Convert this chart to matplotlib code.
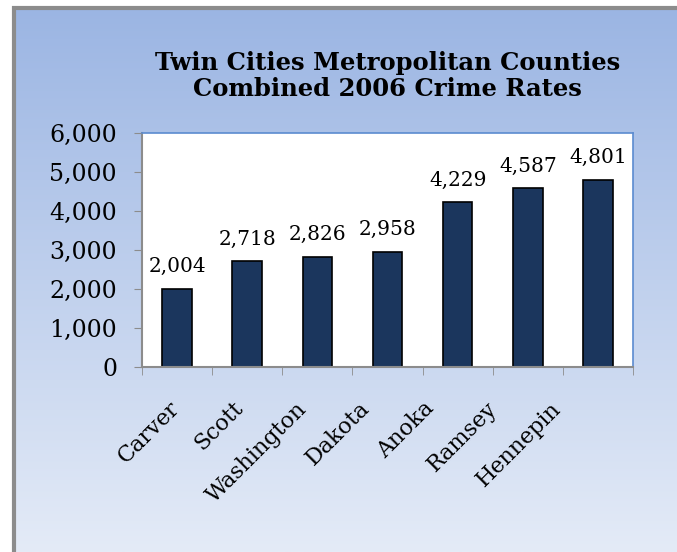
import numpy as np
import matplotlib.pyplot as plt
import matplotlib.transforms as mtransforms
from matplotlib.patches import Rectangle
from matplotlib.ticker import FuncFormatter

counties = ["Carver", "Scott", "Washington", "Dakota", "Anoka", "Ramsey", "Hennepin"]
crime_rates = [2004, 2718, 2826, 2958, 4229, 4587, 4801]
y_ticks = [0, 1000, 2000, 3000, 4000, 5000, 6000]

plt.rcParams['font.family'] = ['DejaVu Serif']

fig = plt.figure(figsize=(6.77, 5.52), dpi=100)

# gradient backdrop for the chart frame
bg = fig.add_axes([14 / 677, 0, 1 - 14 / 677, 1 - 8 / 552])
grad = np.linspace(0, 1, 256).reshape(-1, 1)
top = np.array([155, 181, 227]) / 255
bottom = np.array([228, 235, 247]) / 255
img = top + (bottom - top) * grad[:, :, None]
bg.imshow(img, aspect='auto', extent=[0, 1, 0, 1], origin='upper')
bg.set_axis_off()
bg.add_patch(Rectangle((0, -0.2), 1.2, 1.2, transform=bg.transAxes, fill=False,
                       edgecolor='#8c8c8c', linewidth=3, clip_on=False))

ax = fig.add_axes([142 / 677, 1 - 367 / 552, (633 - 142) / 677, (367 - 133) / 552])
x = np.arange(len(counties))
ax.bar(x, crime_rates, width=0.42, color='#1b365d', edgecolor='black', linewidth=1.2)

for xi, v in zip(x, crime_rates):
    ax.text(xi, v + 320, f"{v:,}", ha='center', va='bottom', fontsize=14.5)

ax.set_xlim(-0.5, len(counties) - 0.5)
ax.set_ylim(0, 6000)
ax.set_yticks(y_ticks)
ax.yaxis.set_major_formatter(FuncFormatter(lambda v, p: f"{int(v):,}"))
ax.tick_params(axis='y', direction='out', length=6, color='#8c8c8c', labelsize=17, pad=12)

ax.set_xticks(x)
ax.set_xticklabels(counties, rotation=45, ha='right', rotation_mode='anchor', fontsize=16)
ax.tick_params(axis='x', length=0, pad=22)
# category labels drift slightly left across the axis
for i, lbl in enumerate(ax.get_xticklabels()):
    shift = mtransforms.ScaledTranslation(-(9 + 6.5 * i) / 100, 0, fig.dpi_scale_trans)
    lbl.set_transform(lbl.get_transform() + shift)
ax.set_xticks(np.arange(-0.5, len(counties)), minor=True)
ax.tick_params(axis='x', which='minor', direction='out', length=6, color='#8c8c8c')

for side in ['left', 'bottom']:
    ax.spines[side].set_color('#8c8c8c')
    ax.spines[side].set_linewidth(1.5)
for side in ['top', 'right']:
    ax.spines[side].set_color('#5b8bd0')
    ax.spines[side].set_linewidth(1.2)

fig.text(0.572, 0.863, "Twin Cities Metropolitan Counties\nCombined 2006 Crime Rates",
         ha='center', va='center', fontsize=17.5, fontweight='bold', linespacing=1.1)

fig.savefig('out.png', dpi=100)
